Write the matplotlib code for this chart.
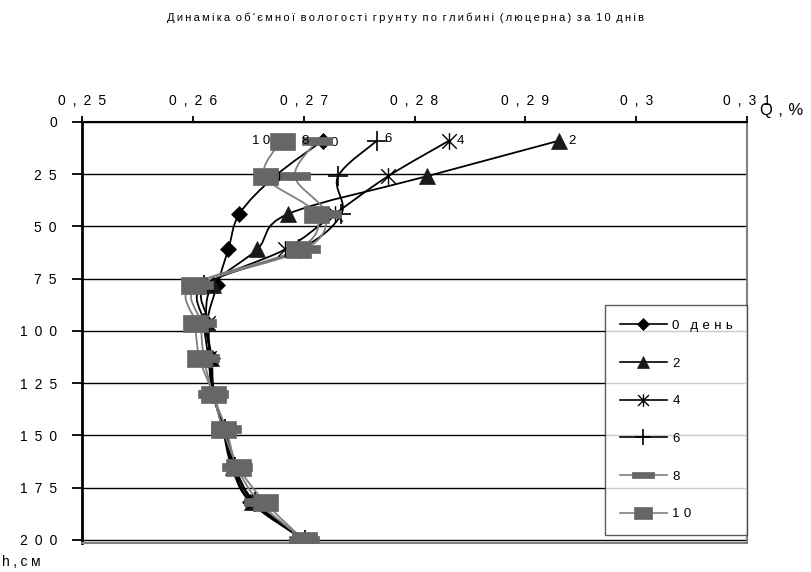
import numpy as np
import matplotlib
matplotlib.use("Agg")
import matplotlib.pyplot as plt
from matplotlib.path import Path
from matplotlib.patches import PathPatch
from matplotlib.lines import Line2D

plt.rcParams["font.family"] = ["Liberation Sans", "DejaVu Sans"]

# глибина, см
depth = [9, 26, 44, 61, 78, 96, 113, 130, 147, 165, 182, 200]

# об'ємна вологість по днях
day0 = [0.2717, 0.2674, 0.2642, 0.2632, 0.2622, 0.2613, 0.2617, 0.2619, 0.2627, 0.2635, 0.2652, 0.2700]
day2 = [0.2930, 0.2811, 0.2686, 0.2658, 0.2618, 0.2612, 0.2616, 0.2619, 0.2628, 0.2636, 0.2653, 0.2700]
day4 = [0.2831, 0.2776, 0.2728, 0.2683, 0.2612, 0.2614, 0.2615, 0.2618, 0.2628, 0.2637, 0.2655, 0.2701]
day6 = [0.2766, 0.2731, 0.2734, 0.2696, 0.2610, 0.2610, 0.2614, 0.2618, 0.2629, 0.2638, 0.2656, 0.2701]
day8 = [0.2712, 0.2692, 0.2720, 0.2701, 0.2605, 0.2607, 0.2610, 0.2618, 0.2630, 0.2640, 0.2660, 0.2700]
day10 = [0.2680, 0.2665, 0.2711, 0.2695, 0.2600, 0.2602, 0.2606, 0.2618, 0.2627, 0.2641, 0.2665, 0.2700]

legend_labels = ["0 день", "2", "4", "6", "8", "10"]
point_labels = ["0", "2", "4", "6", "8", "10"]

x_ticks = [0.25, 0.26, 0.27, 0.28, 0.29, 0.30, 0.31]
x_ticklabels = ["0,25", "0,26", "0,27", "0,28", "0,29", "0,3", "0,31"]
y_ticks = [0, 25, 50, 75, 100, 125, 150, 175, 200]
y_ticklabels = ["0", "25", "50", "75", "100", "125", "150", "175", "200"]

title = "Динаміка об'ємної вологості грунту по глибині (люцерна) за 10 днів"


def spaced(s, gap="\u2002", word_gap="\u2002\u2002"):
    # розріджений шрифт, як в Excel
    return word_gap.join(gap.join(w) for w in s.split(" "))


def smooth_path(x, y):
    # згладжена лінія як в Excel (Catmull-Rom -> Bezier)
    pts = np.column_stack([x, y]).astype(float)
    n = len(pts)
    verts = [pts[0]]
    codes = [Path.MOVETO]
    for i in range(n - 1):
        p0 = pts[i - 1] if i > 0 else pts[i]
        p1 = pts[i]
        p2 = pts[i + 1]
        p3 = pts[i + 2] if i + 2 < n else pts[i + 1]
        verts += [p1 + (p2 - p0) / 6, p2 - (p3 - p1) / 6, p2]
        codes += [Path.CURVE4] * 3
    return Path(verts, codes)


star = Path([(-1, -1), (1, 1), (-1, 1), (1, -1), (0, -1.15), (0, 1.15)],
            [Path.MOVETO, Path.LINETO, Path.MOVETO, Path.LINETO, Path.MOVETO, Path.LINETO])
dash = Path([(-1, -0.25), (1, -0.25), (1, 0.25), (-1, 0.25), (-1, -0.25)],
            [Path.MOVETO, Path.LINETO, Path.LINETO, Path.LINETO, Path.CLOSEPOLY])
rect = Path([(-1, -0.68), (1, -0.68), (1, 0.68), (-1, 0.68), (-1, -0.68)],
            [Path.MOVETO, Path.LINETO, Path.LINETO, Path.LINETO, Path.CLOSEPOLY])

styles = [
    dict(color="black", marker="D", ms=8, mfc="black", mec="black", mew=0.5),
    dict(color="black", marker="^", ms=11, mfc="#1a1a1a", mec="#1a1a1a", mew=0.5),
    dict(color="black", marker=star, ms=12, mfc="none", mec="black", mew=1.0),
    dict(color="black", marker="+", ms=15, mfc="none", mec="black", mew=1.2),
    dict(color="#7f7f7f", marker=dash, ms=21, mfc="#666666", mec="#666666", mew=0.5),
    dict(color="#7f7f7f", marker=rect, ms=18, mfc="#666666", mec="#666666", mew=0.5),
]
label_offsets = [(8, -2), (10, 0), (8, 0), (8, 2), (-8, 0), (-11, 0)]

series = [day0, day2, day4, day6, day8, day10]

fig = plt.figure(figsize=(8.11, 5.72), dpi=100)
ax = fig.add_axes([82 / 811, 1 - 543 / 572, 665 / 811, 421 / 572])

ax.set_xlim(0.25, 0.31)
ax.set_ylim(201.5, 0)

for y in y_ticks:
    ax.axhline(y, color="black", lw=1.0, zorder=1)

handles = []
for vals, st, lab, plab, off in zip(series, styles, legend_labels, point_labels, label_offsets):
    patch = PathPatch(smooth_path(vals, depth), fill=False, edgecolor=st["color"], lw=1.3, zorder=2)
    ax.add_patch(patch)
    ax.plot(vals, depth, linestyle="none", marker=st["marker"], ms=st["ms"],
            mfc=st["mfc"], mec=st["mec"], mew=st["mew"], zorder=3)
    ax.annotate(spaced(plab, "\u2005"), (vals[0], depth[0]), xytext=off, textcoords="offset pixels",
                ha="left" if off[0] > 0 else "right", va="center", fontsize=9.5)
    handles.append(Line2D([], [], color=st["color"], lw=1.2, marker=st["marker"],
                          ms=st["ms"] * 0.75, mfc=st["mfc"], mec=st["mec"], mew=st["mew"]))

ax.xaxis.tick_top()
ax.set_xticks(x_ticks)
ax.set_xticklabels([spaced(t) for t in x_ticklabels], fontsize=10)
ax.set_yticks(y_ticks)
ax.set_yticklabels([spaced(t) for t in y_ticklabels], fontsize=10)
ax.tick_params(axis="x", direction="out", length=4, width=1.3, pad=6)
ax.tick_params(axis="y", direction="out", length=7, width=1.3, pad=11)

ax.spines["left"].set_linewidth(2)
ax.spines["top"].set_linewidth(1.5)
ax.spines["right"].set_color("#808080")
ax.spines["right"].set_linewidth(1.5)
ax.spines["bottom"].set_color("#808080")
ax.spines["bottom"].set_linewidth(1.5)

leg = ax.legend(handles, [spaced(l, "\u2004", "\u2002\u2004") for l in legend_labels], loc="upper left",
                bbox_to_anchor=(0.7865, 0.031, 0.2135, 0.534), mode="expand",
                fontsize=9.5, frameon=True, fancybox=False, edgecolor="#333333",
                labelspacing=1.93, handlelength=3.6, handletextpad=0.4,
                borderpad=1.1, borderaxespad=0)
leg.get_frame().set_linewidth(1.0)
leg.set_zorder(5)

fig.text(0.5, 1 - 18 / 572, spaced(title, "\u2009", "\u2002"), ha="center", va="center", fontsize=8)
fig.text(760 / 811, 1 - 110 / 572, spaced("Q ,%", "\u2004", "\u2004"), ha="left", va="center", fontsize=12)
fig.text(2 / 811, 1 - 562 / 572, spaced("h,см", "\u2005"), ha="left", va="center", fontsize=10)

fig.savefig("out.png", dpi=100)
